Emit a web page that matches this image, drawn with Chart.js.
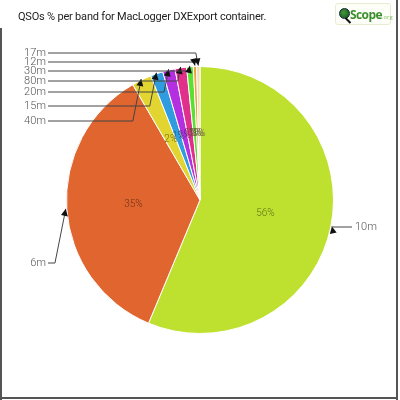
<!DOCTYPE html>
<html>
<head>
<meta charset="utf-8">
<script src="https://cdn.jsdelivr.net/npm/chart.js@4.4.1/dist/chart.umd.min.js"></script>
<style>
  html, body { margin: 0; padding: 0; background: #fff; }
  #wrap { position: relative; width: 400px; height: 400px; overflow: hidden; }
  #wrap canvas { position: absolute; left: 0; top: 0; }
  .title {
    position: absolute; left: 18px; top: 10px;
    font-family: Roboto, sans-serif; font-size: 11px; color: #222;
    letter-spacing: -0.2px; white-space: nowrap;
  }
  .frame-l { position: absolute; left: 0; top: 28px; width: 2px; height: 372px; background: #555; }
  .frame-r { position: absolute; left: 396px; top: 0; width: 2px; height: 400px; background: #555; }
  .frame-b { position: absolute; left: 0; top: 397px; width: 398px; height: 2px; background: #555; }
  .logo {
    position: absolute; left: 335px; top: 3px; width: 54px; height: 20px;
    border: 1px solid #e6edd0; border-radius: 3px; background: #fdfef8;
  }
  .logo .globe {
    position: absolute; left: 3px; top: 4px; width: 9px; height: 9px; border-radius: 50%;
    background: radial-gradient(circle at 40% 40%, #3f9a3a, #1b4d1d); border: 1px solid #123;
  }
  .logo .handle {
    position: absolute; left: 11px; top: 13px; width: 2px; height: 7px; background: #111;
    transform: rotate(-45deg);
  }
  .logo .txt {
    position: absolute; left: 14px; top: 2px; font-family: "Open Sans", sans-serif;
    font-weight: 700; font-size: 12px; color: #3a8f2a; letter-spacing: -0.6px;
  }
  .logo .txt span { font-size: 6px; font-weight: 400; color: #8cc070; letter-spacing: 0; }
</style>
</head>
<body>
<div id="wrap">
  <canvas id="c" width="400" height="400"></canvas>
  <div class="title">QSOs % per band for MacLogger DXExport container.</div>
  <div class="logo"><div class="globe"></div><div class="handle"></div><div class="txt">Scope<span>.org</span></div></div>
  <div class="frame-l"></div><div class="frame-r"></div><div class="frame-b"></div>
</div>
<script>
// band shares (percent of QSOs), clockwise from 12 o'clock
const bands = ['10m', '6m', '40m', '15m', '20m', '80m', '30m', '12m', '17m'];
const shares = [56.3, 35.3, 2.4, 1.5, 1.5, 1.4, 0.8, 0.4, 0.4];
const sliceColors = ['#bee130', '#e0652f', '#e2d531', '#2f9ce0', '#b42fe0', '#e0308b', '#5ae030', '#eba23a', '#f3dab0'];
// vertical position of each callout label
const calloutY = [227, 263, 121, 106, 92, 81, 71, 62, 53];

function darken(hex, f) {
  const n = parseInt(hex.slice(1), 16);
  const r = Math.round(((n >> 16) & 255) * f);
  const g = Math.round(((n >> 8) & 255) * f);
  const b = Math.round((n & 255) * f);
  return `rgb(${r},${g},${b})`;
}

const pieLabels = {
  id: 'pieLabels',
  afterDatasetsDraw(chart) {
    const ctx = chart.ctx;
    const meta = chart.getDatasetMeta(0);
    const values = chart.data.datasets[0].data;
    const total = values.reduce((a, b) => a + b, 0);

    ctx.save();
    // percentage labels inside
    ctx.font = '300 10px Roboto, sans-serif';
    ctx.textAlign = 'center';
    ctx.textBaseline = 'middle';
    meta.data.forEach((arc, i) => {
      const mid = (arc.startAngle + arc.endAngle) / 2;
      const r = arc.outerRadius * 0.5;
      ctx.fillStyle = darken(sliceColors[i], 0.5);
      ctx.fillText(Math.round(values[i] / total * 100) + '%', arc.x + Math.cos(mid) * r, arc.y + Math.sin(mid) * r);
    });

    // callouts with elbow lines and arrows
    ctx.font = '300 11px Roboto, sans-serif';
    ctx.textBaseline = 'middle';
    ctx.strokeStyle = '#444';
    ctx.fillStyle = '#111';
    ctx.lineWidth = 1;
    meta.data.forEach((arc, i) => {
      const mid = (arc.startAngle + arc.endAngle) / 2;
      const tx = arc.x + Math.cos(mid) * (arc.outerRadius + 1);
      const ty = arc.y + Math.sin(mid) * (arc.outerRadius + 1);
      const ly = calloutY[i];
      const left = Math.cos(mid) < 0;
      const dy = Math.abs(ly - ty);
      const ex = left ? tx - dy * 0.2 : tx + dy * 0.2;
      const endX = left ? 48 : 352;

      ctx.beginPath();
      ctx.moveTo(endX, ly);
      ctx.lineTo(ex, ly);
      ctx.lineTo(tx, ty);
      ctx.stroke();

      // arrow head pointing from elbow to tip
      const ang = Math.atan2(ty - ly, tx - ex);
      const len = 7, hw = 3.5;
      const bx = tx - Math.cos(ang) * len, by = ty - Math.sin(ang) * len;
      ctx.beginPath();
      ctx.moveTo(tx, ty);
      ctx.lineTo(bx + Math.sin(ang) * hw, by - Math.cos(ang) * hw);
      ctx.lineTo(bx - Math.sin(ang) * hw, by + Math.cos(ang) * hw);
      ctx.closePath();
      ctx.fill();

      ctx.fillStyle = '#555';
      ctx.textAlign = left ? 'right' : 'left';
      ctx.fillText(bands[i], left ? 46 : 355, ly);
      ctx.fillStyle = '#111';
    });
    ctx.restore();
  }
};

new Chart(document.getElementById('c'), {
  type: 'pie',
  data: {
    labels: bands,
    datasets: [{
      data: shares,
      backgroundColor: sliceColors,
      borderColor: '#ffffff',
      borderWidth: 1
    }]
  },
  options: {
    responsive: false,
    animation: false,
    layout: { padding: 66 },
    plugins: { legend: { display: false }, tooltip: { enabled: false } }
  },
  plugins: [pieLabels]
});
</script>
</body>
</html>
